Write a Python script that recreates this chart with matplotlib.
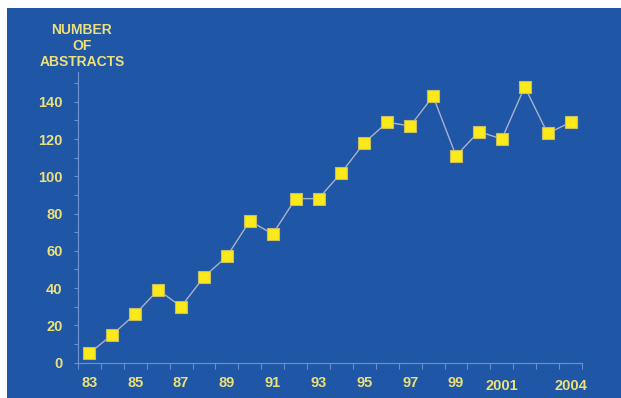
import matplotlib
matplotlib.use("Agg")
import matplotlib.pyplot as plt
from matplotlib.patches import Rectangle
from matplotlib.transforms import ScaledTranslation

# Abstracts submitted per year
years = ["83", "84", "85", "86", "87", "88", "89", "90", "91", "92", "93",
         "94", "95", "96", "97", "98", "99", "2000", "2001", "2002", "2003", "2004"]
abstracts = [5, 15, 26, 39, 30, 46, 57, 76, 69, 88, 88,
             102, 118, 129, 127, 143, 111, 124, 120, 148, 123, 129]
shown_years = ["83", "85", "87", "89", "91", "93", "95", "97", "99", "2001", "2004"]
y_ticks = [0, 20, 40, 60, 80, 100, 120, 140]

BG = "#1f56a6"
TEXT = "#ece07c"
AXIS = "#6d8fcb"

plt.rcParams["font.family"] = ["Liberation Sans", "DejaVu Sans"]

fig = plt.figure(figsize=(6.21, 3.98), dpi=100, facecolor="white")
fig.patches.append(Rectangle((7 / 621, 0), 614 / 621, 1 - 8 / 398,
                             transform=fig.transFigure, facecolor=BG,
                             edgecolor="none", zorder=-10))

ax = fig.add_axes([78 / 621, 1 - 362.5 / 398, 504 / 621, (362.5 - 72) / 398])
ax.set_facecolor("none")
ax.set_zorder(1)

x = list(range(len(years)))
ax.plot(x, abstracts, color="#a9b2c8", linewidth=1.0, zorder=2)
ax.plot(x, abstracts, linestyle="none", marker="s", markersize=8,
        markerfacecolor="#fbe91a", markeredgecolor="#c9bd62",
        markeredgewidth=0.8, zorder=3, clip_on=False)

ax.set_xlim(-0.5, len(years) - 0.5)
ax.set_ylim(0, 156)

# category boundaries carry the tick marks, labels sit on the categories
ax.set_xticks([i - 0.5 for i in range(len(years) + 1)], minor=True)
ax.set_xticks([years.index(y) for y in shown_years])
ax.set_xticklabels(shown_years)
ax.tick_params(axis="x", which="major", length=0, pad=10)
ax.tick_params(axis="x", which="minor", length=4, width=0.8, color=AXIS)

ax.set_yticks(y_ticks)
ax.set_yticks(list(range(0, 151, 10)), minor=True)
ax.tick_params(axis="y", which="both", length=3, width=0.8, color=AXIS, pad=8)

for lab in ax.get_xticklabels() + ax.get_yticklabels():
    lab.set_color(TEXT)
    lab.set_fontweight("bold")
    lab.set_fontsize(10.5)

# the four-digit years sit a little lower than the two-digit ones
for lab in ax.get_xticklabels():
    if len(lab.get_text()) == 4:
        lab.set_transform(lab.get_transform()
                          + ScaledTranslation(0, -3 / 100, fig.dpi_scale_trans))

for side in ("top", "right"):
    ax.spines[side].set_visible(False)
for side in ("left", "bottom"):
    ax.spines[side].set_color(AXIS)
    ax.spines[side].set_linewidth(0.9)

fig.text(82 / 621, 1 - 46 / 398, "NUMBER\nOF\nABSTRACTS", ha="center", va="center",
         color=TEXT, fontsize=10, fontweight="bold", linespacing=1.15)

fig.savefig("out.png", dpi=100, facecolor="white")
